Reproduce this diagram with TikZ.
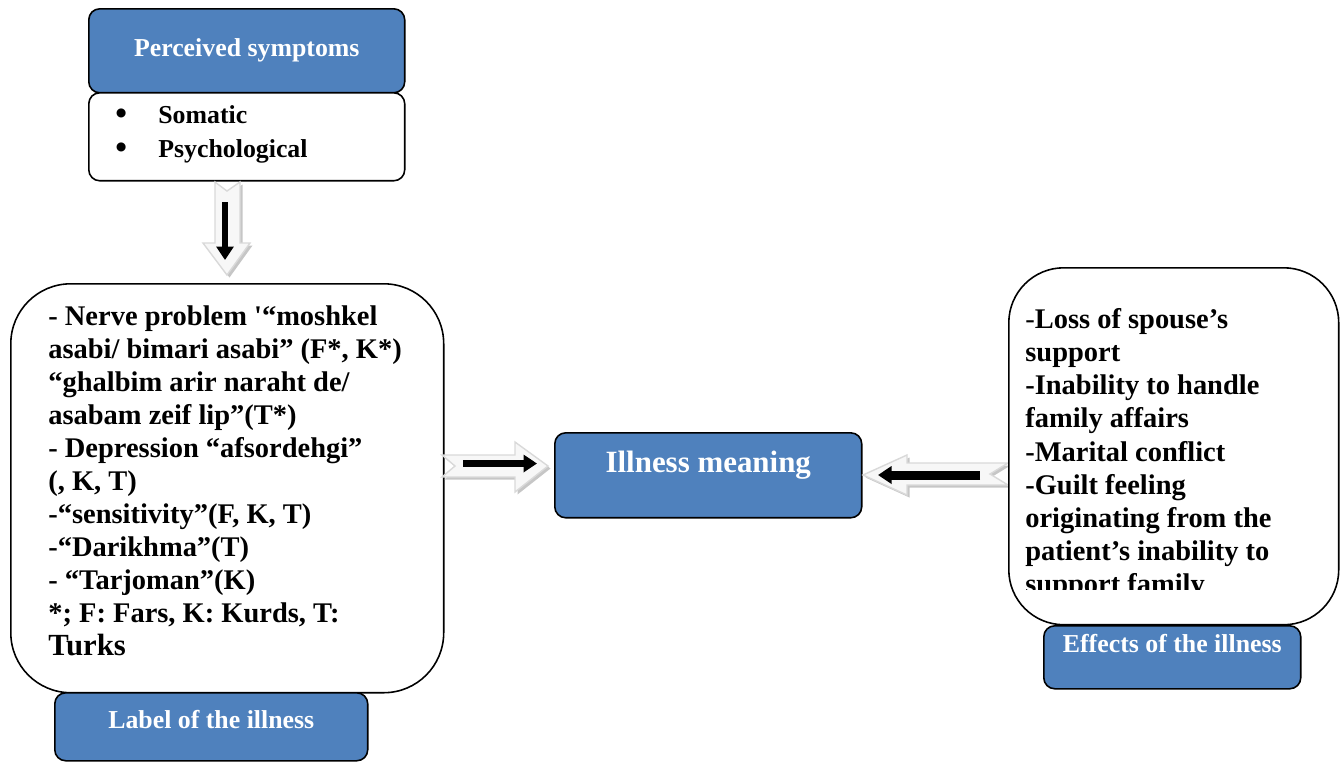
\documentclass[tikz,border=0pt]{standalone}
\usepackage{fontspec}
\setmainfont{Liberation Serif}
\usetikzlibrary{arrows.meta,shadows}
\definecolor{boxblue}{HTML}{4F81BD}
\newcommand{\listbullet}{\makebox[0.86cm][l]{\raisebox{-0.6pt}{\fontsize{19}{19}\selectfont\textbullet}}}
\tikzset{
	bluebox/.style={draw=black, line width=0.9pt, fill=boxblue, text=white, rounded corners=0.22cm, inner ysep=0pt, font=\fontsize{14.7}{17}\selectfont\bfseries},
	whitebox/.style={draw=black, line width=0.9pt, fill=white},
	bodytext/.style={anchor=north west, inner sep=0pt, align=left, font=\fontsize{16.2}{18.8}\selectfont\bfseries},
	hollow/.style={draw=gray!30, fill=gray!6, line width=0.8pt, drop shadow={shadow xshift=0.05cm, shadow yshift=-0.05cm, fill=gray!45, opacity=1}},
	blackarrow/.style={line width=#1, -{Triangle[length=0.27cm, width=0.34cm]}},
}
\begin{document}
\begin{tikzpicture}[x=0.02cm, y=-0.02cm]
	\useasboundingbox (0,0) rectangle (1342,762);

	\node[bluebox, anchor=north west, minimum width=6.32cm, text height=0.96cm, text depth=0.72cm] (sym) at (88,8) {Perceived symptoms};
	\node[whitebox, rounded corners=0.22cm, anchor=north west, minimum width=6.32cm, minimum height=1.76cm] (symlist) at (88,92) {};
	\node[anchor=north west, inner sep=0pt, align=left, font=\fontsize{14.7}{19.4}\selectfont\bfseries] (symtext) at (115,105.5)
		{\listbullet Somatic\\ \listbullet Psychological};

	\draw[hollow] (215,182) -- (227,191) -- (240,182) -- (240,243) -- (250,243) -- (227,275) -- (203,243) -- (215,243) -- cycle;
	\coordinate (d0) at (225,202);
	\coordinate (d1) at (225,260);
	\draw[blackarrow=0.12cm] (d0) -- (d1);

	\node[whitebox, rounded corners=1.2cm, anchor=north west, minimum width=8.66cm, minimum height=8.18cm] (labbox) at (10,283) {};
	\node[bodytext] (labtext) at (48,305) {- Nerve problem \textquotesingle“moshkel\\
		asabi/ bimari asabi” (F*, K*)\\
		“ghalbim arir naraht de/\\
		asabam zeif lip”(T*)\\
		- Depression “afsordehgi”\\
		(, K, T)\\
		-“sensitivity”(F, K, T)\\
		-“Darikhma”(T)\\
		- “Tarjoman”(K)\\
		*; F: Fars, K: Kurds, T:\\
		{\fontsize{17.5}{18.8}\selectfont Turks}};
	\node[bluebox, anchor=north west, minimum width=6.26cm, text height=0.72cm, text depth=0.64cm] (lab) at (54,692) {Label of the illness};

	\node[bluebox, anchor=north west, minimum width=6.14cm, text height=0.8cm, text depth=0.9cm, font=\fontsize{17.6}{20}\selectfont\bfseries] (ill) at (554,432) {Illness meaning};

	\draw[hollow] (442,455) -- (455,466) -- (442,477) -- (515,477) -- (515,492) -- (548,466) -- (515,442) -- (515,455) -- cycle;
	\coordinate (r0) at (463,463.5);
	\coordinate (r1) at (537,463.5);
	\draw[blackarrow=0.14cm] (r0) -- (r1);

	\draw[hollow] (1008,463) -- (990,474) -- (1008,485) -- (907,485) -- (907,495) -- (863,475) -- (907,455) -- (907,463) -- cycle;
	\coordinate (l0) at (980,475);
	\coordinate (l1) at (878,475);
	\draw[blackarrow=0.18cm] (l0) -- (l1);

	\node[whitebox, rounded corners=1.1cm, anchor=north west, minimum width=6.6cm, minimum height=7.14cm] (effbox) at (1008,267) {};
	\begin{scope}
		\clip (1008,267) rectangle (1338,589);
		\node[bodytext] (efftext) at (1025,308.5) {{\mdseries -}Loss of spouse’s\\
			support\\
			-Inability to handle\\
			family affairs\\
			-Marital conflict\\
			-Guilt feeling\\
			originating from the\\
			patient’s inability to\\
			support family};
	\end{scope}
	\node[bluebox, anchor=north west, minimum width=5.14cm, text height=0.54cm, text depth=0.72cm] (eff) at (1043,625) {Effects of the illness};
\end{tikzpicture}
\end{document}
